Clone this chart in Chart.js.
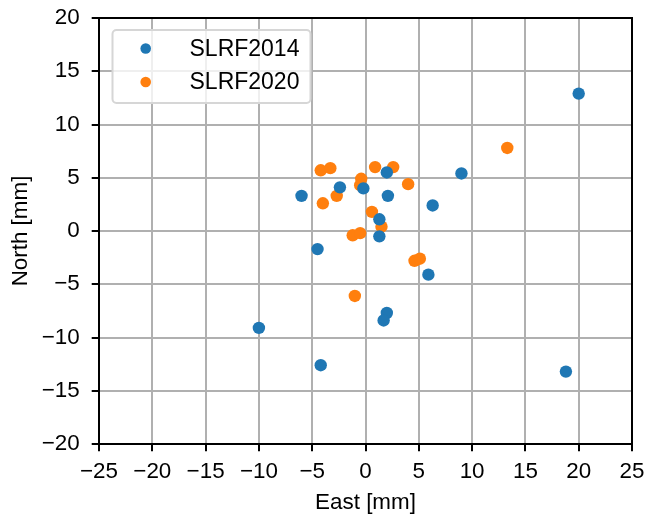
<!DOCTYPE html>
<html lang="en">
<head>
  <meta charset="UTF-8" />
  <title>SLRF2014 vs SLRF2020</title>
  <script src="https://cdn.jsdelivr.net/npm/chart.js"></script>
  <style>
    body { margin: 0; background: #fff; }
    #wrap { width: 649px; height: 518px; }
  </style>
</head>
<body>
  <div id="wrap"><canvas id="plot" width="649" height="518"></canvas></div>
  <script>
    // (mm)
    const east2014  = [20.0, 18.8, 9.0, 6.3, 5.9, 2.0, 2.1, 1.3, 1.3, 2.0, 1.7, -0.2, -2.4, -6.0, -4.5, -10.0, -4.2];
    const north2014 = [12.9, -13.2, 5.4, 2.4, -4.1, 5.5, 3.3, 1.1, -0.5, -7.7, -8.4, 4.0, 4.1, 3.3, -1.7, -9.1, -12.6];
    const east2020  = [-4.2, -3.3, 0.9, 2.6, -0.4, -0.5, 4.0, -2.7, -4.0, 0.6, 1.5, -1.2, -0.5, 4.6, 5.1, -1.0, 13.3];
    const north2020 = [5.7, 5.9, 6.0, 6.0, 4.9, 4.3, 4.4, 3.3, 2.6, 1.8, 0.4, -0.4, -0.2, -2.8, -2.6, -6.1, 7.8];
    const seriesNames = ['SLRF2014', 'SLRF2020'];
    const xTicks = [-25, -20, -15, -10, -5, 0, 5, 10, 15, 20, 25];
    const yTicks = [-20, -15, -10, -5, 0, 5, 10, 15, 20];

    const FONT = { family: '"Liberation Sans", Arial, sans-serif', size: 22.4 };
    const LEGEND_FONT = '23px "Liberation Sans", Arial, sans-serif';
    const toPts = (xs, ys) => xs.map((x, i) => ({ x: x, y: ys[i] }));
    const minus = v => String(v).replace('-', '\u2212');
    // let layout.padding alone decide where the plot box sits
    const noPad = s => { s.paddingTop = s.paddingBottom = s.paddingLeft = s.paddingRight = 0; };

    // top/right spines + legend box like matplotlib
    const frame = {
      id: 'frame',
      afterDraw(chart) {
        const ctx = chart.ctx, a = chart.chartArea;
        ctx.save();
        ctx.strokeStyle = '#000';
        ctx.lineWidth = 2;
        ctx.strokeRect(a.left, a.top, a.right - a.left, a.bottom - a.top);

        // legend
        const lx = 112.5, ly = 30, lw = 198, lh = 73, r = 4;
        ctx.beginPath();
        ctx.roundRect(lx, ly, lw, lh, r);
        ctx.fillStyle = 'rgba(255,255,255,0.8)';
        ctx.fill();
        ctx.strokeStyle = '#d6d6d6';
        ctx.lineWidth = 2;
        ctx.stroke();
        ctx.font = LEGEND_FONT;
        ctx.textBaseline = 'middle';
        ctx.textAlign = 'left';
        chart.data.datasets.forEach((ds, i) => {
          const cy = 48.5 + i * 33.5;
          ctx.beginPath();
          ctx.arc(145.7, cy, 5.3, 0, Math.PI * 2);
          ctx.fillStyle = ds.backgroundColor;
          ctx.fill();
          ctx.fillStyle = '#000';
          ctx.fillText(ds.label, 189.5, cy + 1);
        });
        ctx.restore();
      }
    };

    new Chart(document.getElementById('plot'), {
      type: 'scatter',
      data: {
        datasets: [
          { label: seriesNames[0], data: toPts(east2014, north2014), backgroundColor: '#1f77b4', borderWidth: 0, pointRadius: 6.2 },
          { label: seriesNames[1], data: toPts(east2020, north2020), backgroundColor: '#ff7f0e', borderWidth: 0, pointRadius: 6.2 }
        ]
      },
      options: {
        responsive: false,
        animation: false,
        layout: { padding: { left: 0, right: 17, top: 18, bottom: 0 } },
        plugins: { legend: { display: false }, tooltip: { enabled: false } },
        scales: {
          x: {
            type: 'linear', min: -25, max: 25,
            afterBuildTicks: s => { s.ticks = xTicks.map(v => ({ value: v })); },
            afterFit: s => { s.height = 74; noPad(s); },
            ticks: { font: FONT, color: '#000', padding: 7, maxRotation: 0, callback: minus },
            grid: { color: '#b0b0b0', lineWidth: 2, tickLength: 7.3, tickColor: '#000', tickWidth: 2 },
            border: { display: false },
            title: { display: true, text: 'East [mm]', font: FONT, color: '#000', padding: { top: 0, bottom: 2 } }
          },
          y: {
            type: 'linear', min: -20, max: 20,
            afterBuildTicks: s => { s.ticks = yTicks.map(v => ({ value: v })); },
            afterFit: s => { s.width = 99; noPad(s); },
            ticks: { font: FONT, color: '#000', padding: 12, callback: minus },
            grid: { color: '#b0b0b0', lineWidth: 2, tickLength: 7.3, tickColor: '#000', tickWidth: 2 },
            border: { display: false },
            title: { display: true, text: 'North [mm]', font: FONT, color: '#000', padding: { top: 7, bottom: 0 } }
          }
        }
      },
      plugins: [frame]
    });
  </script>
</body>
</html>
